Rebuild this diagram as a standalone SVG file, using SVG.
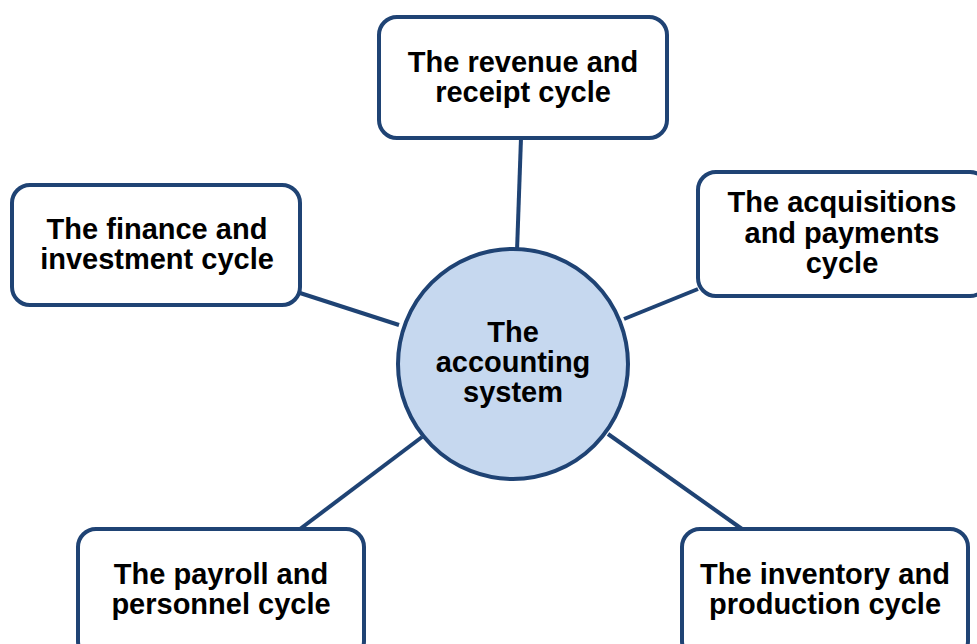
<svg xmlns="http://www.w3.org/2000/svg" width="977" height="644" viewBox="0 0 977 644">
<style>
.box{fill:#ffffff;stroke:#1f4374;stroke-width:4}
.hub{fill:#c6d8ef;stroke:#1f4374;stroke-width:4}
.edge{stroke:#1f4374;stroke-width:4;fill:none}
text{font-family:"Liberation Sans",Arial,sans-serif;font-weight:bold;font-size:29px;fill:#000;text-anchor:middle}
</style>
<rect width="977" height="644" fill="#ffffff"/>
<g id="connectors">
<line class="edge" x1="521" y1="138" x2="517" y2="251"/>
<line class="edge" x1="300" y1="293" x2="399" y2="325"/>
<line class="edge" x1="698" y1="289" x2="624" y2="319"/>
<line class="edge" x1="300" y1="529" x2="422" y2="437"/>
<line class="edge" x1="742" y1="529" x2="608" y2="434"/>
</g>
<g id="hub">
<circle class="hub" cx="513" cy="364" r="115"/>
<text x="513" y="342">The</text>
<text x="513" y="372">accounting</text>
<text x="513" y="402">system</text>
</g>
<g id="revenue">
<rect class="box" x="379" y="17" width="288" height="121" rx="18"/>
<text x="523" y="72">The revenue and</text>
<text x="523" y="102">receipt cycle</text>
</g>
<g id="acquisitions">
<rect class="box" x="698" y="172" width="290" height="124" rx="18"/>
<text x="842" y="212">The acquisitions</text>
<text x="842" y="243">and payments</text>
<text x="842" y="273">cycle</text>
</g>
<g id="finance">
<rect class="box" x="12" y="185" width="288" height="120" rx="18"/>
<text x="157" y="239">The finance and</text>
<text x="157" y="269">investment cycle</text>
</g>
<g id="payroll">
<rect class="box" x="78" y="529" width="286" height="130" rx="18"/>
<text x="221" y="584">The payroll and</text>
<text x="221" y="614">personnel cycle</text>
</g>
<g id="inventory">
<rect class="box" x="682" y="529" width="286" height="130" rx="18"/>
<text x="825" y="584">The inventory and</text>
<text x="825" y="614">production cycle</text>
</g>
</svg>
